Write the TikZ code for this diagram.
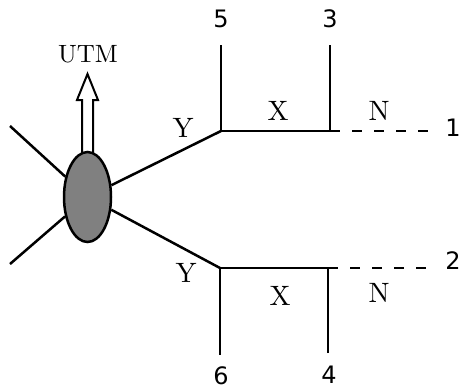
\documentclass[tikz,border=0pt]{standalone}
\usepackage{fontspec}
\newfontfamily\numfont{DejaVu Sans}
\newfontfamily\lmten[Extension=.otf]{lmroman10-regular}
\usetikzlibrary{shapes.geometric}
\begin{document}
\begin{tikzpicture}[x=1pt,y=-1pt,
  ln/.style={line width=2.5pt},
  dsh/.style={line width=2.5pt,dash pattern=on 10pt off 12pt},
  lett/.style={inner sep=0pt,font=\lmten\fontsize{28}{28}\selectfont},
  num/.style={inner sep=0pt,font=\numfont\fontsize{24}{24}\selectfont},
  blob/.style={ellipse,draw,line width=2.5pt,fill=black!50,minimum width=47pt,minimum height=90pt,inner sep=0pt}]
\useasboundingbox (0,0) rectangle (462,389);
% hollow arrow
\draw[line width=2pt,fill=white] (82,155) -- (82,100) -- (77,100) -- (87.5,74) -- (98,100) -- (93,100) -- (93,155);
\node[blob] (E) at (87.5,197) {};
\node[lett,font=\lmten\fontsize{25}{25}\selectfont] (utm) at (88,54) {UTM};
% coordinates
\coordinate (L1) at (10,126);
\coordinate (L2) at (10,264);
\coordinate (A) at (221,131);
\coordinate (A5) at (221,46);
\coordinate (B) at (330,131);
\coordinate (B3) at (330,45);
\coordinate (C) at (430,131);
\coordinate (D) at (220,268);
\coordinate (D6) at (220,354);
\coordinate (F) at (328,268);
\coordinate (F4) at (328,353);
\coordinate (G) at (426,268);
% lines
\draw[ln] (L1) -- (E);
\draw[ln] (L2) -- (E);
\draw[ln] (E) -- (A);
\draw[ln] (E) -- (D);
\draw[ln,line cap=rect] (A5) -- (A) -- (B);
\draw[ln] (B3) -- (B);
\draw[dsh] (B) -- (C);
\draw[ln,line cap=rect] (D6) -- (D) -- (F);
\draw[ln] (F4) -- (F);
\draw[dsh] (F) -- (G);
% labels
\node[lett] (y1) at (183,128) {Y};
\node[lett] (x1) at (278,111) {X};
\node[lett] (n1) at (379,111) {N};
\node[num] (n1l) at (453,128) {1};
\node[num] (n5) at (221,19) {5};
\node[num] (n3) at (330,19) {3};
\node[lett] (y2) at (186,273) {Y};
\node[lett] (x2) at (280,296) {X};
\node[lett] (n2) at (379,293) {N};
\node[num] (n2l) at (453,261) {2};
\node[num] (n6) at (221,376) {6};
\node[num] (n4) at (329,375) {4};
\end{tikzpicture}
\end{document}
